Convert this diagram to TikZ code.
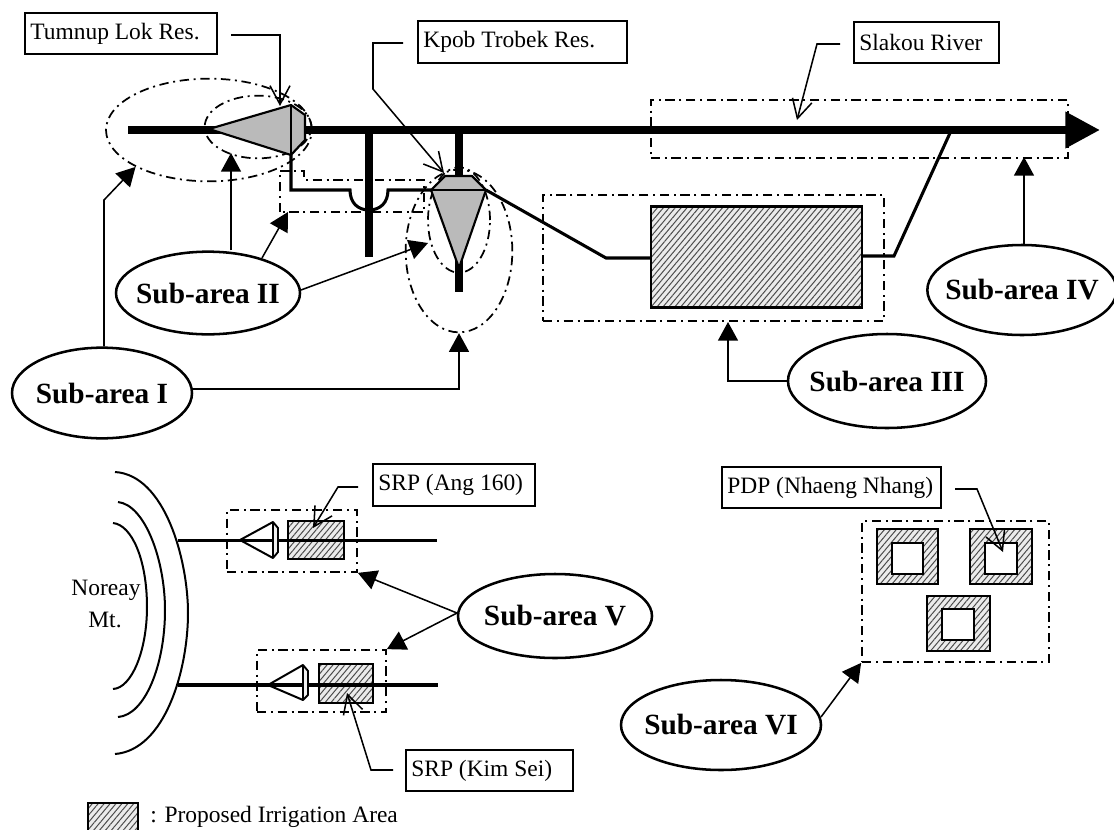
\documentclass[tikz,border=0pt]{standalone}
\usepackage{fontspec}
\setmainfont{Liberation Serif}
\usetikzlibrary{patterns.meta,arrows.meta,shapes.geometric}
\tikzset{
 x=0.75pt,y=-0.75pt,
 lab/.style={draw,line width=1.5pt,inner ysep=0pt,inner xsep=4pt,align=flush left,font=\fontsize{17.6}{20}\selectfont},
 plain text/.style={inner sep=0pt,font=\fontsize{17.6}{20}\selectfont},
 area/.style={draw,ellipse,line width=1.9pt,inner xsep=-15pt,inner ysep=-5pt,font=\bfseries\fontsize{22}{25}\selectfont},
 zone/.style={draw,line width=1.3pt,inner sep=0pt,dash pattern=on 7pt off 3.5pt on 1.5pt off 3.5pt},
 leader/.style={line width=1.15pt,line join=miter},
 fat/.style={line width=6pt},
 river/.style={line width=2.6pt},
 canal/.style={line width=2.3pt,line join=miter},
 res/.style={draw,fill=black!27,line width=1.6pt,line join=round},
 dam/.style={draw,fill=black!6,line width=1.4pt,line join=round},
 hatchbox/.style={draw,line width=1.6pt,inner sep=0pt,preaction={fill=black!8},pattern={Lines[angle=50,distance=3.4pt,line width=.75pt]},pattern color=black!70},
 hole/.style={draw,fill=white,line width=1.8pt,inner sep=0pt},
 solidtip/.style={-{Triangle[length=14pt,width=15pt]}},
 opentip/.style={-{Straight Barb[length=14pt,width=15pt]}},
 mainarrow/.style={-{Triangle[length=26pt,width=26pt]}},
}
\begin{document}
\begin{tikzpicture}
\useasboundingbox (0,0) rectangle (1114,829);
\fill[white] (0,0) rectangle (1114,829);

% named points
\coordinate (mainS) at (128,130);
\coordinate (mainE) at (1100,130);
\coordinate (branchAtop) at (369,130);
\coordinate (branchAbot) at (369,257);
\coordinate (branchBtop) at (459,130);
\coordinate (branchBbot) at (459,292);
\coordinate (resAtip) at (209,129);
\coordinate (resAup) at (291,105);
\coordinate (resAdn) at (291,155);
\coordinate (resBl) at (431,190);
\coordinate (resBr) at (486,190);
\coordinate (resBtip) at (459,268);
\coordinate (kink) at (606,258);
\coordinate (outk) at (894,256);
\coordinate (join) at (950,133);
\coordinate (canalC) at (291,190);

% dash-dot zones
\node[zone,ellipse,minimum width=154.5pt,minimum height=77pt] (zoneIa) at (209,130) {};
\node[zone,ellipse,minimum width=80pt,minimum height=47pt] (zoneIIa) at (258,127) {};
\node[zone,ellipse,minimum width=80pt,minimum height=122pt] (zoneIb) at (459,251) {};
\node[zone,ellipse,minimum width=46.5pt,minimum height=79pt] (zoneIIb) at (459,220) {};
\draw[zone] (280,212) -- (280,171) -- (304,171) -- (304,180) -- (424,180) -- (424,212) -- cycle;
\node[zone,minimum width=255.75pt,minimum height=94.5pt] (zoneIII) at (713.5,258) {};
\node[zone,minimum width=312.75pt,minimum height=43.5pt] (zoneIV) at (859.25,129) {};

% river system
\draw[fat,mainarrow] (mainS) -- (mainE);
\draw[fat] (branchAtop) -- (branchAbot);
\draw[fat] (branchBtop) -- (branchBbot);
\draw[canal] (resAdn) -- (canalC) -- (350,190) .. controls (350,203) and (358,210) .. (369,210) .. controls (380,210) and (388,203) .. (388,190) -- (resBl);
\draw[canal] (resBr) -- (kink) -- (650,258);
\draw[canal] (862,256) -- (outk) -- (join);

% reservoirs
\draw[res] (resAtip) -- (resAup) -- (305,115) -- (305,140) -- (resAdn) -- cycle;
\draw[res] (resAup) -- (resAdn);
\draw[res] (445,176) -- (472,176) -- (resBr) -- (resBtip) -- (resBl) -- cycle;
\draw[res] (resBl) -- (resBr);

% main irrigation area
\node[hatchbox,minimum width=158.25pt,minimum height=75.75pt] (irrIII) at (756.5,257) {};

% labels top
\node[lab,minimum width=144pt,minimum height=30.75pt,text width=136pt] (tum) at (121,33.5) {Tumnup Lok Res.};
\node[lab,minimum width=156.75pt,minimum height=31.5pt,text width=148.75pt] (kpob) at (522.5,42) {Kpob Trobek Res.};
\node[lab,minimum width=108.4pt,minimum height=30.75pt,text width=100.4pt] (slakou) at (926.25,42.5) {Slakou River};

\coordinate (tumS) at (231,35);
\coordinate (tumM) at (280,35);
\coordinate (tumT) at (280,106);
\draw[leader,opentip] (tumS) -- (tumM) -- (tumT);
\coordinate (kpS) at (403,43);
\coordinate (kpM) at (373,43);
\coordinate (kpN) at (373,89);
\coordinate (kpT) at (444,173);
\draw[leader,opentip] (kpS) -- (kpM) -- (kpN) -- (kpT);
\coordinate (slS) at (840,44);
\coordinate (slM) at (817,44);
\coordinate (slT) at (797,120);
\draw[leader,opentip] (slS) -- (slM) -- (slT);

% sub-area ellipses
\node[area,minimum width=135pt,minimum height=68pt] (sI) at (102,393) {Sub-area I};
\node[area,minimum width=138pt,minimum height=62pt] (sII) at (208,293) {Sub-area II};
\node[area,minimum width=148.5pt,minimum height=70.5pt] (sIII) at (887,381) {\raisebox{-3pt}{Sub-area III}};
\node[area,minimum width=142pt,minimum height=67.5pt] (sIV) at (1022,290) {Sub-area IV};
\node[area,minimum width=145.5pt,minimum height=63pt] (sV) at (555,616) {Sub-area V};
\node[area,minimum width=150pt,minimum height=67.5pt] (sVI) at (721,725) {\raisebox{-1.5pt}{Sub-area VI}};

% sub-area leaders
\coordinate (iUp) at (104,200);
\draw[leader,solidtip] (sI.north -| iUp) -- (iUp) -- (zoneIa.south west);
\coordinate (iE) at (192,389);
\draw[leader,solidtip] (iE) -| (zoneIb.south);
\coordinate (iiA) at (231,153);
\draw[leader,solidtip] (sII.north -| iiA) -- (iiA);
\coordinate (iiBs) at (262,258);
\coordinate (iiBt) at (288,212);
\draw[leader,solidtip] (iiBs) -- (iiBt);
\coordinate (iiCs) at (301,290);
\coordinate (iiCt) at (428,243);
\draw[leader,solidtip] (iiCs) -- (iiCt);
\coordinate (iiiT) at (728,322);
\draw[leader,solidtip] (sIII.west) -| (iiiT);
\coordinate (ivT) at (1024,157);
\draw[leader,solidtip] (sIV.north -| ivT) -- (ivT);

% mountain
\draw[line width=1.5pt] (115,472) .. controls (165,475) and (188,560) .. (188,613) .. controls (188,670) and (165,750) .. (115,754);
\draw[line width=1.5pt] (118,502) .. controls (145,505) and (165,560) .. (165,610) .. controls (165,665) and (145,715) .. (118,717);
\draw[line width=1.5pt] (113,523) .. controls (132,525) and (147,560) .. (147,607) .. controls (147,650) and (132,688) .. (113,689);
\node[plain text] (mtA) at (106,590) {Noreay};
\node[plain text] (mtB) at (105,620) {Mt.};

% SRP schemes
\node[hatchbox,minimum width=41.5pt,minimum height=28.5pt] (irrA) at (316,540) {};
\node[hatchbox,minimum width=40.5pt,minimum height=29.25pt] (irrB) at (346,683.5) {};
\coordinate (rA0) at (178,540.5);
\coordinate (rA1) at (437,540.5);
\coordinate (rB0) at (178,685);
\coordinate (rB1) at (438,685);
\draw[river] (rA0) -- (rA1);
\draw[river] (rB0) -- (rB1);
\node[zone,minimum width=97.5pt,minimum height=46.5pt] (zoneVa) at (292,541) {};
\node[zone,minimum width=96.75pt,minimum height=46.5pt] (zoneVb) at (321.5,681) {};
\draw[line width=1.5pt,line join=round] (273,522) -- (240,540) -- (273,558);
\draw[dam] (273,522) -- (278,528) -- (278,552) -- (273,558) -- cycle;
\draw[line width=1.5pt,line join=round] (303,665) -- (268,685) -- (303,700);
\draw[dam] (303,665) -- (308,671) -- (308,695) -- (303,700) -- cycle;

\node[lab,minimum width=121.5pt,minimum height=31.5pt,text width=113.5pt] (ang) at (454,485) {SRP (Ang 160)};
\node[lab,minimum width=125.25pt,minimum height=30.75pt,text width=117.25pt] (kim) at (489.5,770.5) {SRP (Kim Sei)};
\coordinate (angS) at (358,487);
\coordinate (angM) at (338,487);
\coordinate (angT) at (313,528);
\draw[leader,opentip] (angS) -- (angM) -- (angT);
\coordinate (kimS) at (393,770);
\coordinate (kimM) at (371,770);
\coordinate (kimT) at (347,693);
\draw[leader,opentip] (kimS) -- (kimM) -- (kimT);

\coordinate (vS) at (457,613);
\draw[leader,solidtip] (vS) -- (zoneVa.south east);
\draw[leader,solidtip] (vS) -- (zoneVb.north east);

% PDP
\node[zone,minimum width=140.25pt,minimum height=105.75pt] (zoneVI) at (955.5,591.5) {};
\node[hatchbox,minimum width=45.75pt,minimum height=41.25pt] (pA) at (907.5,556.5) {};
\node[hole,minimum width=23.25pt,minimum height=23.25pt] (pAi) at (907.5,558.5) {};
\node[hatchbox,minimum width=46.5pt,minimum height=41.25pt] (pB) at (1001,556.5) {};
\node[hole,minimum width=24pt,minimum height=23.25pt] (pBi) at (1001,558.5) {};
\node[hatchbox,minimum width=47.25pt,minimum height=41.25pt] (pC) at (958.5,623.5) {};
\node[hole,minimum width=24pt,minimum height=23.25pt] (pCi) at (958,624.5) {};
\node[lab,minimum width=164.25pt,minimum height=30.75pt,text width=156.25pt] (pdp) at (831.5,487.5) {PDP (Nhaeng Nhang)};
\coordinate (pdS) at (955,489);
\coordinate (pdM) at (977,489);
\coordinate (pdT) at (1003,552);
\draw[leader,opentip] (pdS) -- (pdM) -- (pdT);
\coordinate (viS) at (821,717);
\draw[leader,solidtip] (viS) -- (zoneVI.south west);

% legend
\node[hatchbox,minimum width=37.5pt,minimum height=21pt] (leg) at (113,817) {};
\node[plain text,anchor=west] (legT) at (150,817) {: Proposed Irrigation Area};
\end{tikzpicture}
\end{document}
